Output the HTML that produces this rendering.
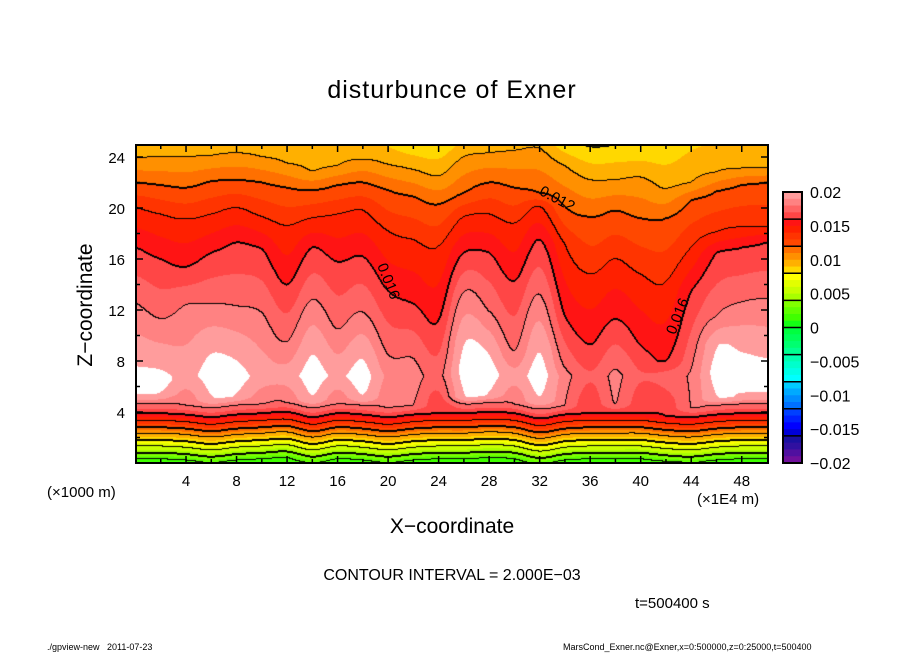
<!DOCTYPE html>
<html><head><meta charset="utf-8">
<style>
html,body{margin:0;padding:0;background:#fff;}
body{width:904px;height:654px;position:relative;overflow:hidden;font-family:"Liberation Sans",sans-serif;}
.t{position:absolute;white-space:nowrap;color:#000;}
canvas{position:absolute;left:136px;top:145px;}
svg{position:absolute;left:0;top:0;}
</style></head>
<body>
<div class="t" style="left:0;width:904px;text-align:center;top:76px;font-size:25px;letter-spacing:1px;">disturbunce of Exner</div>
<canvas id="cv" width="632" height="318"></canvas>
<svg id="sv" width="904" height="654"></svg>
<div class="t" style="left:86px;top:305px;font-size:21px;transform:translate(-50%,-50%) rotate(-90deg);">Z−coordinate</div>
<div class="t" style="left:0;width:904px;text-align:center;top:515px;font-size:21px;">X−coordinate</div>
<div class="t" style="left:47px;top:484px;font-size:15px;">(×1000 m)</div>
<div class="t" style="left:697px;top:491px;font-size:15px;">(×1E4 m)</div>
<div class="t" style="left:0;width:904px;text-align:center;top:567px;font-size:16px;">CONTOUR INTERVAL = 2.000E−03</div>
<div class="t" style="left:635px;top:595px;font-size:15px;">t=500400 s</div>
<div class="t" style="left:47px;top:642px;font-size:9px;">./gpview-new&nbsp;&nbsp;&nbsp;2011-07-23</div>
<div class="t" style="left:563px;top:642px;font-size:9px;">MarsCond_Exner.nc@Exner,x=0:500000,z=0:25000,t=500400</div>
<script>
const xs      = [0,2,4,6,8,10,12,14,16,18,20,22,24,26,28,30,32,34,36,38,40,42,44,46,48,50];
const U10     = [23.9,24.0,24.0,24.1,24.3,24.0,23.5,22.9,23.3,23.8,23.4,23.0,22.5,24.0,24.3,24.5,24.7,23.3,22.2,22.2,22.4,21.5,22.0,22.8,23.1,23.1];
const U12     = [22.0,21.8,21.6,22.1,22.2,22.0,21.6,21.4,21.8,22.0,21.4,20.9,20.3,21.2,22.0,21.6,21.2,20.1,19.3,19.8,19.2,19.2,20.6,21.3,21.8,22.0];
const U14     = [20.0,19.5,19.1,19.5,20.0,19.3,18.6,19.2,19.5,19.8,18.2,17.5,17.0,19.3,19.5,18.8,20.1,17.2,14.8,16.0,14.8,14.2,16.9,18.1,18.5,18.5];
const U16     = [16.9,16.0,15.4,16.5,17.3,16.8,14.0,16.9,15.8,16.2,13.5,12.5,11.2,16.5,16.5,14.3,17.5,11.5,9.3,11.3,9.2,8.0,13.5,16.5,16.9,17.3];
const U18     = [12.5,11.3,12.4,12.5,12.3,11.8,9.5,12.8,10.5,11.8,8.5,8.2,0,13.4,11.9,8.8,13.2,7.5,0,7.3,0,0,7.3,11.5,12.6,12.9];
const peakVal = [0.0205,0.0205,0.0198,0.0205,0.0205,0.0197,0.0196,0.0205,0.0199,0.0205,0.0188,0.0185,0.0177,0.0205,0.0205,0.0195,0.0205,0.0185,0.0172,0.0182,0.0172,0.0175,0.0182,0.0205,0.0205,0.0205];
const whiteLo = [5.2,5.4,0,5.0,5.2,0,0,5.0,0,5.1,0,0,0,5.2,5.3,0,4.9,0,0,0,0,0,0,5.0,5.2,5.3];
const whiteHi = [7.8,7.5,0,8.9,8.3,0,0,8.8,0,8.4,0,0,0,9.6,8.8,0,9.0,0,0,0,0,0,0,9.3,9.0,8.5];
const lowShift= [0,0,-0.1,-0.3,-0.1,0,0.1,-0.3,0,-0.1,-0.3,-0.1,0,0,0.1,0,-0.4,-0.1,0,0,0,-0.2,-0.3,-0.1,0,0];
const topVal  = [0.0092,0.0092,0.0092,0.0092,0.0092,0.0092,0.0092,0.0092,0.0092,0.0092,0.0085,0.0078,0.0078,0.0088,0.009,0.009,0.009,0.0079,0.0075,0.0076,0.0076,0.0079,0.0086,0.0088,0.0088,0.0088];
const cbTicks = [0.02,0.015,0.01,0.005,0,-0.005,-0.01,-0.015,-0.02];
const cbLabels= ["0.02","0.015","0.01","0.005","0","−0.005","−0.01","−0.015","−0.02"];
const xTicks  = [4,8,12,16,20,24,28,32,36,40,44,48];
const zTicks  = [4,8,12,16,20,24];
const COLORS = ["#ff9c9c","#ff8282","#ff6464","#ff4646","#ff1414","#ff2000","#ff3400","#ff4800",
 "#ff7000","#ff9000","#ffb000","#ffd800","#ffff00","#e2ff00","#c8ff00","#a8ff00",
 "#80ff00","#60ff00","#40ff00","#14ff14","#00ff40","#00ff58","#00ff70","#00ff90",
 "#00ffb0","#00ffcc","#00ffe6","#00ffff","#00ccff","#00aaff","#008cff","#0070ff",
 "#0040ff","#0020ff","#0000ff","#0000d8","#1a10a0","#3010a0","#5010a0","#70109c"];

const PX0=136, PY0=145, PW=632, PH=318;
const sx = v => 135.5 + v*12.63;
const sz = z => 463 - z*12.75;

function colValue(i, z){
  const s=lowShift[i], P=peakVal[i];
  const a=[[0,0.0012],[0.3+s,0.002],[0.8+s,0.004],[1.3+s,0.006],[1.8+s,0.008],[2.3+s,0.010],[2.8+s,0.012],[3.3+s,0.014],[3.9+s,0.016]];
  if(P>=0.018) a.push([4.6+s,0.018]);
  if(whiteLo[i]>0){ a.push([whiteLo[i],0.02]); a.push([(whiteLo[i]+whiteHi[i])/2,0.0206]); a.push([whiteHi[i],0.02]); }
  else a.push([6.8,P]);
  if(P>=0.018) a.push([U18[i],0.018]);
  a.push([U16[i],0.016],[U14[i],0.014],[U12[i],0.012]);
  if(U10[i]<25) a.push([U10[i],0.010]);
  a.push([25.5,topVal[i]]);
  for(let k=0;k<a.length-1;k++){
    if(z<=a[k+1][0]){ const t=(z-a[k][0])/(a[k+1][0]-a[k][0]); return a[k][1]+Math.max(0,Math.min(1,t))*(a[k+1][1]-a[k][1]); }
  }
  return a[a.length-1][1];
}
function colorOf(v){
  if(v>=0.0201) return "#ffffff";
  let idx=Math.floor((0.02-v)/0.001); idx=Math.max(0,Math.min(39,idx));
  return COLORS[idx];
}
function hex(c){return [parseInt(c.substr(1,2),16),parseInt(c.substr(3,2),16),parseInt(c.substr(5,2),16)];}
const RGB={}; COLORS.concat(["#ffffff"]).forEach(c=>RGB[c]=hex(c));

const cv=document.getElementById('cv'), ctx=cv.getContext('2d');
const img=ctx.createImageData(PW,PH);
const F=new Float32Array(PW*PH);
const n=xs.length;
for(let py=0;py<PH;py++){
  const z=(463-(PY0+py+0.5))/12.75;
  const cvals=[]; for(let i=0;i<n;i++) cvals.push(colValue(i,z));
  for(let px=0;px<PW;px++){
    const xv=(PX0+px+0.5-135.5)/12.63;
    let f=xv/2; let i=Math.floor(f); if(i<0)i=0; if(i>n-2)i=n-2; let t=f-i; t=Math.max(0,Math.min(1,t));
    const p0=cvals[Math.max(0,i-1)],p1=cvals[i],p2=cvals[i+1],p3=cvals[Math.min(n-1,i+2)];
    const v=0.5*((2*p1)+(-p0+p2)*t+(2*p0-5*p1+4*p2-p3)*t*t+(-p0+3*p1-3*p2+p3)*t*t*t);
    F[py*PW+px]=v;
  }
}
const lev=v=>Math.floor(v/0.002);
for(let py=0;py<PH;py++)for(let px=0;px<PW;px++){
  const k=py*PW+px, v=F[k]; const c=RGB[colorOf(v)];
  img.data[k*4]=c[0];img.data[k*4+1]=c[1];img.data[k*4+2]=c[2];img.data[k*4+3]=255;
}
function blk(px,py){ if(px<0||py<0||px>=PW||py>=PH)return; const k=(py*PW+px)*4; img.data[k]=0;img.data[k+1]=0;img.data[k+2]=0; }
for(let py=0;py<PH;py++)for(let px=0;px<PW;px++){
  const a=lev(F[py*PW+px]);
  const nb=[[px+1,py],[px,py+1]];
  for(const [qx,qy] of nb){
    if(qx>=PW||qy>=PH)continue;
    const b=lev(F[qy*PW+qx]);
    if(a!==b){
      const L=Math.max(a,b);
      if(L>=10) continue;
      blk(px,py);
      if(L%2===0){ blk(qx,qy); }
    }
  }
}
ctx.putImageData(img,0,0);

const NS="http://www.w3.org/2000/svg";
const sv=document.getElementById('sv');
function el(tag,attrs,parent){const e=document.createElementNS(NS,tag);for(const k in attrs)e.setAttribute(k,attrs[k]);(parent||sv).appendChild(e);return e;}

const fr=el('rect',{x:136,y:145,width:632,height:318,fill:'none',stroke:'#000','stroke-width':2});


for(let v=2;v<50;v+=2){
  const L=(v%4===0)?7:4, X=sx(v);
  const t1=el('line',{x1:X,y1:463,x2:X,y2:463-L,stroke:'#000','stroke-width':1.5});
  
  
  const t2=el('line',{x1:X,y1:145,x2:X,y2:145+L,stroke:'#000','stroke-width':1.5});
  
  
}
for(let v=2;v<25;v+=2){
  const L=(v%4===0)?7:4, Y=sz(v);
  const t1=el('line',{x1:136,y1:Y,x2:136+L,y2:Y,stroke:'#000','stroke-width':1.5});
  
  
  const t2=el('line',{x1:768,y1:Y,x2:768-L,y2:Y,stroke:'#000','stroke-width':1.5});
  
  
}
xTicks.forEach(v=>{
  const t=el('text',{x:sx(v),y:486,'text-anchor':'middle','font-size':15,'font-family':'Liberation Sans, sans-serif'});
  t.textContent=v;
  
  
});
zTicks.forEach(v=>{
  const t=el('text',{x:125,y:sz(v)+6,'text-anchor':'end','font-size':15,'font-family':'Liberation Sans, sans-serif'});
  t.textContent=v;
  
  
});
[["0.012",555,203,28],["0.016",384,283,68],["0.016",682,318,-68]].forEach(l=>{
  const t=el('text',{x:l[1],y:l[2],'text-anchor':'middle','font-size':15,'font-family':'Liberation Sans, sans-serif',transform:`rotate(${l[3]} ${l[1]} ${l[2]})`});
  t.textContent=l[0];
  
  
});
const CBX=783,CBW=19,CBT=192,CBB=463,cs=(CBB-CBT)/40;
const cbs=v=>CBT+(0.02-v)/0.04*(CBB-CBT);
for(let i=0;i<40;i++){
  const r=el('rect',{x:CBX,y:CBT+i*cs,width:CBW,height:cs+0.6,fill:COLORS[i]});
  
  
}
for(let b=1;b<10;b++){
  const ln=el('line',{x1:CBX,y1:CBT+b*4*cs,x2:CBX+CBW,y2:CBT+b*4*cs,stroke:'#000','stroke-width':1.5});
  
  
}
const cbf=el('rect',{x:CBX,y:CBT,width:CBW,height:CBB-CBT,fill:'none',stroke:'#000','stroke-width':2});


cbTicks.forEach((v,i)=>{
  const t=el('text',{x:810,y:cbs(v)+6,'font-size':16,'font-family':'Liberation Sans, sans-serif'});
  t.textContent=cbLabels[i];
  
  
});
</script>
</body></html>
